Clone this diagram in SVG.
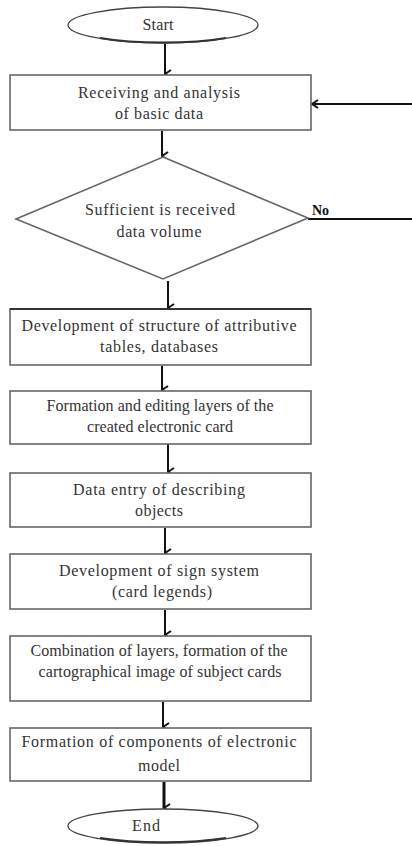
<svg xmlns="http://www.w3.org/2000/svg" width="412" height="846" viewBox="0 0 412 846">
<style>
.bg{fill:#fff}
.box{fill:#fff;stroke:#666;stroke-width:1.6}
.term{fill:#fff;stroke:#444;stroke-width:1.3}
.termb{fill:none;stroke:#333;stroke-width:2}
.dia{fill:#fff;stroke:#666;stroke-width:1.6}
.t{font-family:"Liberation Serif","DejaVu Serif","Times New Roman",serif;font-size:16px;fill:#333;text-anchor:middle}
.no{font-family:"Liberation Serif","DejaVu Serif","Times New Roman",serif;font-size:14px;font-weight:bold;fill:#111}
.ln{stroke:#111;stroke-width:2;fill:none}
.lnb{stroke:#111;stroke-width:3;fill:none}
</style>
<defs>
<marker id="ah" viewBox="0 0 10 10" refX="5" refY="9" markerWidth="10" markerHeight="10" markerUnits="userSpaceOnUse" orient="auto-start-reverse">
<path d="M1,3 L5,9 L9,3" fill="none" stroke="#111" stroke-width="2"/>
</marker>
<marker id="ahl" viewBox="0 0 10 10" refX="9" refY="5" markerWidth="10" markerHeight="10" markerUnits="userSpaceOnUse" orient="auto">
<path d="M3,1 L9,5 L3,9" fill="none" stroke="#111" stroke-width="2"/>
</marker>
</defs>
<rect class="bg" x="0" y="0" width="412" height="846"/>

<g id="connectors">
<line class="ln" x1="165" y1="44" x2="165" y2="74" marker-end="url(#ah)"/>
<line class="ln" x1="412" y1="104" x2="312" y2="104" marker-end="url(#ahl)"/>
<line class="ln" x1="162" y1="131" x2="162" y2="156" marker-end="url(#ah)"/>
<line class="ln" x1="308" y1="219" x2="412" y2="219"/>
<line class="ln" x1="168" y1="281" x2="168" y2="308" marker-end="url(#ah)"/>
<line class="ln" x1="162" y1="366" x2="162" y2="390" marker-end="url(#ah)"/>
<line class="ln" x1="168" y1="444" x2="168" y2="472" marker-end="url(#ah)"/>
<line class="ln" x1="165" y1="528" x2="165" y2="553" marker-end="url(#ah)"/>
<line class="ln" x1="165" y1="610" x2="165" y2="635" marker-end="url(#ah)"/>
<line class="ln" x1="163" y1="702" x2="163" y2="727" marker-end="url(#ah)"/>
<line class="lnb" x1="164" y1="782" x2="164" y2="808" marker-end="url(#ah)"/>
</g>

<g id="start">
<ellipse class="term" cx="163" cy="25" rx="95" ry="18"/>
<path class="termb" d="M100,38 A95,18 0 0 0 226,38"/>
<text class="t" x="158" y="30" textLength="31" lengthAdjust="spacing">Start</text>
</g>

<g id="receiving">
<rect class="box" x="10" y="75" width="301" height="55"/>
<text class="t" x="159" y="98" textLength="162" lengthAdjust="spacing">Receiving and analysis</text>
<text class="t" x="159" y="119" textLength="88" lengthAdjust="spacing">of basic data</text>
</g>

<g id="decision">
<polygon class="dia" points="163,157 308,218 163,279 16,219"/>
<text class="t" x="160" y="215" textLength="150" lengthAdjust="spacing">Sufficient is received</text>
<text class="t" x="159" y="237" textLength="85" lengthAdjust="spacing">data volume</text>
<text class="no" x="312" y="215">No</text>
</g>

<g id="structure">
<rect class="box" x="10" y="309" width="301" height="56"/>
<line x1="10" y1="309" x2="311" y2="309" stroke="#333" stroke-width="2.2"/>
<text class="t" x="159" y="331" textLength="275" lengthAdjust="spacing">Development of structure of attributive</text>
<text class="t" x="159" y="352" textLength="118" lengthAdjust="spacing">tables, databases</text>
</g>

<g id="layers">
<rect class="box" x="10" y="391" width="301" height="53"/>
<text class="t" x="160" y="411" textLength="227" lengthAdjust="spacing">Formation and editing layers of the</text>
<text class="t" x="160" y="432" textLength="146" lengthAdjust="spacing">created electronic card</text>
</g>

<g id="dataentry">
<rect class="box" x="10" y="473" width="301" height="54"/>
<text class="t" x="159" y="495" textLength="172" lengthAdjust="spacing">Data entry of describing</text>
<text class="t" x="159" y="516" textLength="48" lengthAdjust="spacing">objects</text>
</g>

<g id="signsystem">
<rect class="box" x="10" y="554" width="301" height="55"/>
<text class="t" x="159" y="576" textLength="200" lengthAdjust="spacing">Development of sign system</text>
<text class="t" x="162" y="597" textLength="100" lengthAdjust="spacing">(card legends)</text>
</g>

<g id="combination">
<rect class="box" x="10" y="636" width="301" height="65"/>
<text class="t" x="159" y="656" textLength="257" lengthAdjust="spacing">Combination of layers, formation of the</text>
<text class="t" x="160" y="677" textLength="243" lengthAdjust="spacing">cartographical image of subject cards</text>
</g>

<g id="components">
<rect class="box" x="10" y="728" width="301" height="53"/>
<text class="t" x="159" y="747" textLength="275" lengthAdjust="spacing">Formation of components of electronic</text>
<text class="t" x="159" y="771" textLength="42" lengthAdjust="spacing">model</text>
</g>

<g id="end">
<ellipse class="term" cx="163" cy="826" rx="95" ry="17"/>
<path class="termb" d="M100,838 A95,17 0 0 0 226,838"/>
<text class="t" x="146" y="831" textLength="28" lengthAdjust="spacing">End</text>
</g>
</svg>
